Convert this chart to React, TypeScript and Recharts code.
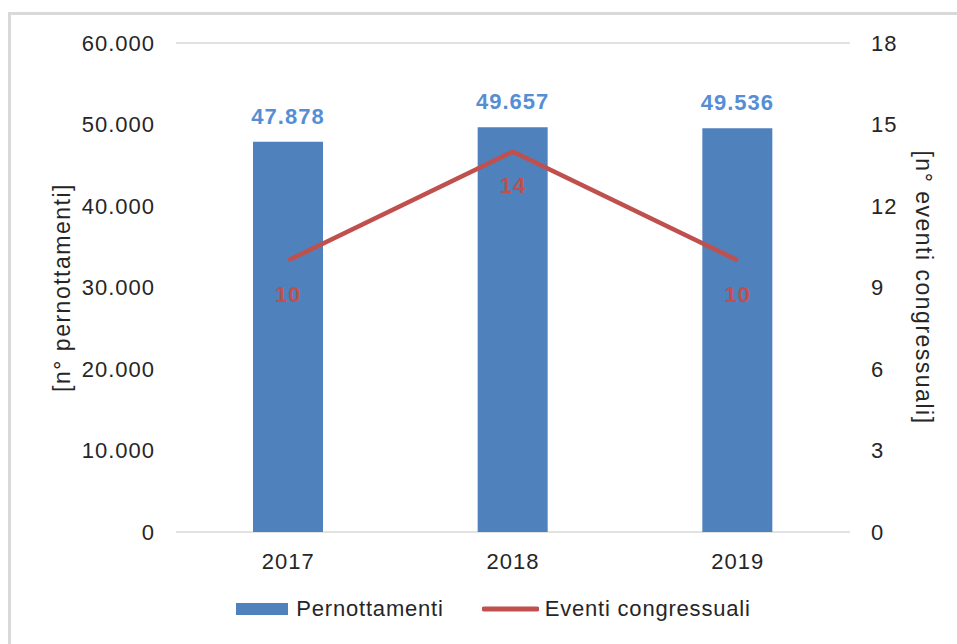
import React from 'react';
import { ComposedChart, Bar, Line, XAxis, YAxis, CartesianGrid, Legend, LabelList } from 'recharts';

const years = ['2017', '2018', '2019'];
const pernottamenti = [47878, 49657, 49536];
const eventi = [10, 14, 10];
const leftTicks = [0, 10000, 20000, 30000, 40000, 50000, 60000];
const rightTicks = [0, 3, 6, 9, 12, 15, 18];

const BLUE = '#4F81BD';
const RED = '#C0504D';
const FONT = '"Liberation Sans", Arial, sans-serif';

const chartData = years.map((year, i) => ({
  year,
  pernottamenti: pernottamenti[i],
  eventi: eventi[i]
}));

const fmtDots = (v: number) => String(v).replace(/\B(?=(\d{3})+(?!\d))/g, '.');

const LegendContent = () => (
  <div style={styles.legend}>
    <svg width={52} height={12} style={{ marginRight: 8 }}>
      <rect x={0} y={0} width={52} height={12} fill={BLUE} />
    </svg>
    <span style={{ marginRight: 38 }}>Pernottamenti</span>
    <svg width={57} height={12} style={{ marginRight: 6 }}>
      <line x1={2} y1={6} x2={55} y2={6} stroke={RED} strokeWidth={5} strokeLinecap="round" />
    </svg>
    <span>Eventi congressuali</span>
  </div>
);

export default function App() {
  const tick = { fontSize: 22, fill: '#262626', fontFamily: FONT, letterSpacing: 1 };
  const axisLabel = { textAnchor: 'middle', fontSize: 23, fill: '#262626', fontFamily: FONT, letterSpacing: 1.5 };
  return (
    <div style={styles.page}>
      <div style={styles.frame} />
      <ComposedChart
        width={957}
        height={644}
        data={chartData}
        margin={{ top: 43, right: 27, left: 76, bottom: 72 }}
      >
        <CartesianGrid vertical={false} stroke="#d9d9d9" strokeWidth={1.5} />
        <XAxis
          dataKey="year"
          axisLine={false}
          tickLine={false}
          tick={tick}
          tickMargin={15}
          height={40}
        />
        <YAxis
          yAxisId="left"
          domain={[0, 60000]}
          ticks={leftTicks}
          tickFormatter={fmtDots}
          axisLine={false}
          tickLine={false}
          tick={tick}
          tickMargin={15}
          width={100}
          label={{
            value: '[n° pernottamenti]',
            angle: -90,
            position: 'insideLeft',
            offset: -14,
            style: axisLabel
          }}
        />
        <YAxis
          yAxisId="right"
          orientation="right"
          domain={[0, 18]}
          ticks={rightTicks}
          axisLine={false}
          tickLine={false}
          tick={tick}
          tickMargin={15}
          width={80}
          label={{
            value: '[n° eventi congressuali]',
            angle: 90,
            position: 'insideRight',
            offset: 6,
            style: axisLabel
          }}
        />
        <Legend
          layout="horizontal"
          verticalAlign="middle"
          align="center"
          content={LegendContent}
          wrapperStyle={{ top: 596, left: 0, width: 957 }}
        />
        <Bar yAxisId="left" dataKey="pernottamenti" fill={BLUE} barSize={70} isAnimationActive={false}>
          <LabelList
            dataKey="pernottamenti"
            position="top"
            offset={18}
            formatter={(v: number) => fmtDots(v)}
            style={{ fontSize: 22, fontWeight: 'bold', fill: '#558ED5', fontFamily: FONT, letterSpacing: 1 }}
          />
        </Bar>
        <Line
          yAxisId="right"
          dataKey="eventi"
          stroke={RED}
          strokeWidth={4.5}
          dot={false}
          activeDot={false}
          isAnimationActive={false}
        >
          <LabelList
            dataKey="eventi"
            position="bottom"
            offset={26}
            style={{ fontSize: 22, fontWeight: 'bold', fill: RED, fontFamily: FONT, letterSpacing: 1 }}
          />
        </Line>
      </ComposedChart>
    </div>
  );
}

const styles: Record<string, React.CSSProperties> = {
  page: {
    position: 'absolute',
    left: 0,
    top: 0,
    width: 957,
    height: 644,
    background: '#fff',
    fontFamily: FONT
  },
  frame: {
    position: 'absolute',
    left: 8,
    top: 12,
    right: 0,
    bottom: 0,
    borderTop: '3px solid #d9d9d9',
    borderLeft: '3px solid #d9d9d9',
    pointerEvents: 'none'
  },
  legend: {
    display: 'flex',
    alignItems: 'center',
    justifyContent: 'center',
    fontSize: 22,
    color: '#262626',
    fontFamily: FONT,
    letterSpacing: 0.8,
    paddingLeft: 30
  }
};
